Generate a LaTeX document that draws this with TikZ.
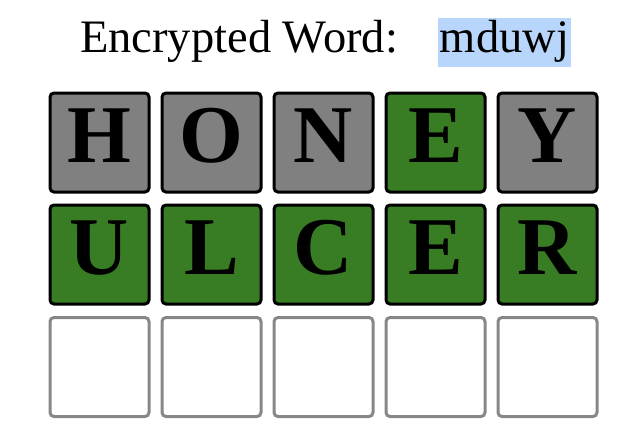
\documentclass[tikz,border=0pt]{standalone}
\usepackage{fontspec}
\setmainfont{Liberation Serif}
\definecolor{tilegray}{HTML}{808080}
\definecolor{tilegreen}{HTML}{387C23}
\definecolor{emptyedge}{HTML}{878787}
\definecolor{selblue}{HTML}{B8D6FB}
\tikzset{
  tile/.style={draw=black, line width=3pt, rounded corners=4pt, minimum size=99pt,
    inner sep=0pt, text height=54pt, text depth=14pt,
    font=\fontsize{82}{82}\selectfont\bfseries},
  graytile/.style={tile, fill=tilegray},
  greentile/.style={tile, fill=tilegreen},
  emptytile/.style={draw=emptyedge, line width=3pt, rounded corners=4pt, minimum size=99pt,
    inner sep=0pt, fill=white},
  titletext/.style={font=\fontsize{46.5}{46.5}\selectfont, inner sep=0pt},
}
\begin{document}
\begin{tikzpicture}[x=1pt,y=1pt]
\useasboundingbox (0,0) rectangle (626,-444);
\node[titletext, anchor=base west] (title) at (80,-52.7) {Encrypted Word:};
\node[titletext, fill=selblue, minimum width=132.4pt, text height=34.4pt, text depth=14pt] (word) at (504.5,-42.5) {mduwj};
% row 1
\node[graytile]  (r1c1) at (99.5,-142.5) {H};
\node[graytile]  (r1c2) at (211.5,-142.5) {O};
\node[graytile]  (r1c3) at (323.5,-142.5) {N};
\node[greentile] (r1c4) at (435.5,-142.5) {E};
\node[graytile]  (r1c5) at (547.5,-142.5) {Y};
% row 2
\node[greentile] (r2c1) at (99.5,-254.5) {U};
\node[greentile] (r2c2) at (211.5,-254.5) {L};
\node[greentile] (r2c3) at (323.5,-254.5) {C};
\node[greentile] (r2c4) at (435.5,-254.5) {E};
\node[greentile] (r2c5) at (547.5,-254.5) {R};
% row 3
\node[emptytile] (r3c1) at (99.5,-367) {};
\node[emptytile] (r3c2) at (211.5,-367) {};
\node[emptytile] (r3c3) at (323.5,-367) {};
\node[emptytile] (r3c4) at (435.5,-367) {};
\node[emptytile] (r3c5) at (547.5,-367) {};
\end{tikzpicture}
\end{document}
